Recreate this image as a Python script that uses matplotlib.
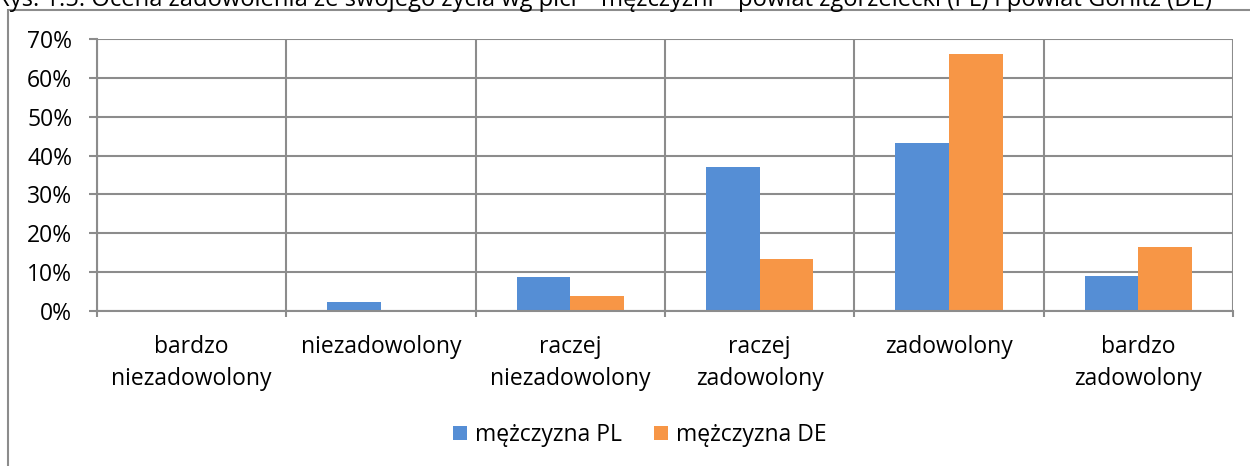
import matplotlib
matplotlib.use("Agg")
import matplotlib.pyplot as plt
from matplotlib.patches import Rectangle, Patch
import numpy as np

plt.rcParams['font.family'] = ['Open Sans', 'DejaVu Sans']
FS = 16.5

categories = ["bardzo\nniezadowolony", "niezadowolony", "raczej\nniezadowolony",
              "raczej\nzadowolony", "zadowolony", "bardzo\nzadowolony"]
pl_values = [0.0, 2.2, 8.7, 37.0, 43.2, 9.0]
de_values = [0.0, 0.0, 3.8, 13.5, 66.1, 16.4]
series_names = ["mężczyzna PL", "mężczyzna DE"]
y_ticks = [0, 10, 20, 30, 40, 50, 60, 70]
title = "Rys. 1.5. Ocena zadowolenia ze swojego życia wg płci – mężczyźni – powiat zgorzelecki (PL) i powiat Görlitz (DE)"

W, H = 1250, 466
fig = plt.figure(figsize=(W / 100, H / 100), dpi=100)
ax = fig.add_axes([97 / W, (H - 311) / H, (1233 - 97) / W, (311 - 39) / H])

blue = "#558ED5"
orange = "#F79646"
grid_c = "#8C8C8C"

x = np.arange(len(categories))
bw = 0.283
ax.bar(x - bw / 2, pl_values, bw, color=blue, zorder=3)
ax.bar(x + bw / 2, de_values, bw, color=orange, zorder=3)

ax.set_xlim(-0.5, len(categories) - 0.5)
ax.set_ylim(0, 70)
ax.set_yticks(y_ticks)
ax.set_yticklabels([f"{t}%" for t in y_ticks])

ax.set_xticks(x)
ax.set_xticklabels(categories, linespacing=1.42)
ax.set_xticks(np.arange(-0.5, len(categories)), minor=True)
ax.tick_params(axis='x', which='major', length=0, pad=17.5, labelsize=FS)
ax.tick_params(axis='x', which='minor', length=4.3, width=1.5, color=grid_c, direction='out')
ax.tick_params(axis='y', length=5.8, width=1.5, color=grid_c, pad=12, labelsize=FS)

ax.grid(axis='y', which='major', color=grid_c, lw=1.5, zorder=0)
ax.grid(axis='x', which='minor', color=grid_c, lw=1.5, zorder=0)
ax.grid(axis='x', which='major', visible=False)

for s in ['top', 'right']:
    ax.spines[s].set_visible(False)
for s in ['left', 'bottom']:
    ax.spines[s].set_color(grid_c)
    ax.spines[s].set_linewidth(1.5)
ax.spines['bottom'].set_zorder(4)

# outer chart border (partly cropped)
fig.add_artist(Rectangle((8 / W, -0.2), 1.5, (H - 10) / H + 0.2, transform=fig.transFigure,
                         fill=False, edgecolor="#8C8C8C", lw=1.5, clip_on=False))

# title cropped at top
fig.text(-5 / W, 1 - 5.5 / H, title, ha='left', va='baseline', fontsize=17.1, color="#000000")

handles = [Patch(facecolor=blue, edgecolor='none'), Patch(facecolor=orange, edgecolor='none')]
fig.legend(handles, series_names, loc='center', bbox_to_anchor=(640 / W, 1 - 435 / H),
           ncol=2, frameon=False, fontsize=FS, handlelength=0.6, handleheight=0.6,
           handletextpad=0.35, columnspacing=1.4)

fig.savefig("out.png", dpi=100)
